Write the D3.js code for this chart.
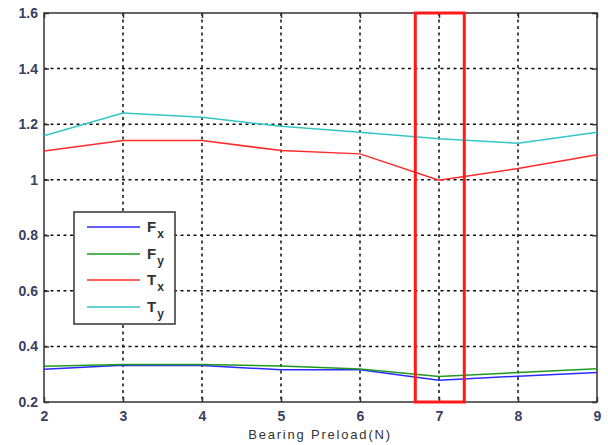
<!DOCTYPE html>
<html><head><meta charset="utf-8">
<script src="https://cdn.jsdelivr.net/npm/d3@7"></script>
<style>body{margin:0;background:#fff}svg{display:block}text{font-family:"Liberation Sans",Arial,sans-serif}</style>
</head><body><svg id="c" width="608" height="445"></svg>
<script>
const preload = [2,3,4,5,6,7,8,9];
const Fx = [0.318,0.332,0.331,0.316,0.316,0.278,0.293,0.306];
const Fy = [0.329,0.335,0.335,0.330,0.319,0.292,0.306,0.320];
const Tx = [1.103,1.141,1.141,1.105,1.093,0.998,1.040,1.090];
const Ty = [1.158,1.240,1.225,1.192,1.171,1.147,1.131,1.171];
const seriesNames = ["F","F","T","T"];
const seriesSubs = ["x","y","x","y"];
const colors = ["#2b2bff","#1f9a1f","#ff2a2a","#33c6c6"];
const xTicks = [2,3,4,5,6,7,8,9];
const yTicks = [0.2,0.4,0.6,0.8,1,1.2,1.4,1.6];
const highlight = [6.7,7.32];
const xLabel = "Bearing Preload(N)";

const svg = d3.select("#c");
const L=44,R=597,T=13,B=402;
const x = d3.scaleLinear().domain([2,9]).range([L,R]);
const y = d3.scaleLinear().domain([0.2,1.6]).range([B,T]);

// grid
const g = svg.append("g");
g.selectAll(".vx").data(xTicks.slice(1,-1)).join("line")
  .attr("x1",d=>x(d)).attr("x2",d=>x(d)).attr("y1",T).attr("y2",B)
  .attr("stroke","#111").attr("stroke-width",1.5).attr("stroke-dasharray","3,3.5");
g.selectAll(".hy").data(yTicks.slice(1,-1)).join("line")
  .attr("y1",d=>y(d)).attr("y2",d=>y(d)).attr("x1",L).attr("x2",R)
  .attr("stroke","#111").attr("stroke-width",1.5).attr("stroke-dasharray","3,3.5");

// axes
const xa = d3.axisBottom(x).tickValues(xTicks).tickSize(-5).tickPadding(9).tickFormat(d3.format("d"));
const ya = d3.axisLeft(y).tickValues(yTicks).tickSize(-5).tickPadding(6).tickFormat(d=>String(+d.toFixed(1)));
svg.append("g").attr("transform",`translate(0,${B})`).call(xa);
svg.append("g").attr("transform",`translate(${L},0)`).call(ya);
svg.append("g").attr("transform",`translate(0,${T})`).call(d3.axisTop(x).tickValues(xTicks).tickSize(-5).tickFormat(""));
svg.append("g").attr("transform",`translate(${R},0)`).call(d3.axisRight(y).tickValues(yTicks).tickSize(-5).tickFormat(""));
svg.selectAll(".domain").remove();
svg.selectAll(".tick line").attr("stroke","#333").attr("stroke-width",1.5);
svg.selectAll(".tick text").attr("fill","#3a4060").attr("font-size",14).attr("font-weight","bold");
svg.append("rect").attr("x",L).attr("y",T).attr("width",R-L).attr("height",B-T)
  .attr("fill","none").attr("stroke","#333").attr("stroke-width",1.5);

// lines
const all = [Fx,Fy,Tx,Ty];
const line = d3.line().x((d,i)=>x(preload[i])).y(d=>y(d));
all.forEach((s,k)=>{
  svg.append("path").datum(s).attr("d",line).attr("fill","none")
    .attr("stroke",colors[k]).attr("stroke-width",1.5);
});

// highlight rect
svg.append("rect").attr("x",x(highlight[0])).attr("y",T).attr("width",x(highlight[1])-x(highlight[0])).attr("height",B-T)
  .attr("fill","none").attr("stroke","#ff1a1a").attr("stroke-width",3);

// legend
const lg = svg.append("g");
lg.append("rect").attr("x",74).attr("y",212).attr("width",101).attr("height",112)
  .attr("fill","#fff").attr("stroke","#333").attr("stroke-width",1.5);
const ly = [227,254,280,307];
seriesNames.forEach((n,k)=>{
  lg.append("line").attr("x1",87).attr("x2",140).attr("y1",ly[k]).attr("y2",ly[k])
    .attr("stroke",colors[k]).attr("stroke-width",1.5);
  const t = lg.append("text").attr("x",147).attr("y",ly[k]+5).attr("font-size",15).attr("font-weight","bold").attr("fill","#333");
  t.append("tspan").text(n);
  t.append("tspan").attr("dx",1).attr("dy",6).attr("font-size",12).text(seriesSubs[k]);
});

svg.append("text").attr("x",320).attr("y",439).attr("text-anchor","middle")
  .attr("font-size",13).attr("letter-spacing",1.8).attr("fill","#333").text(xLabel);
</script></body></html>
